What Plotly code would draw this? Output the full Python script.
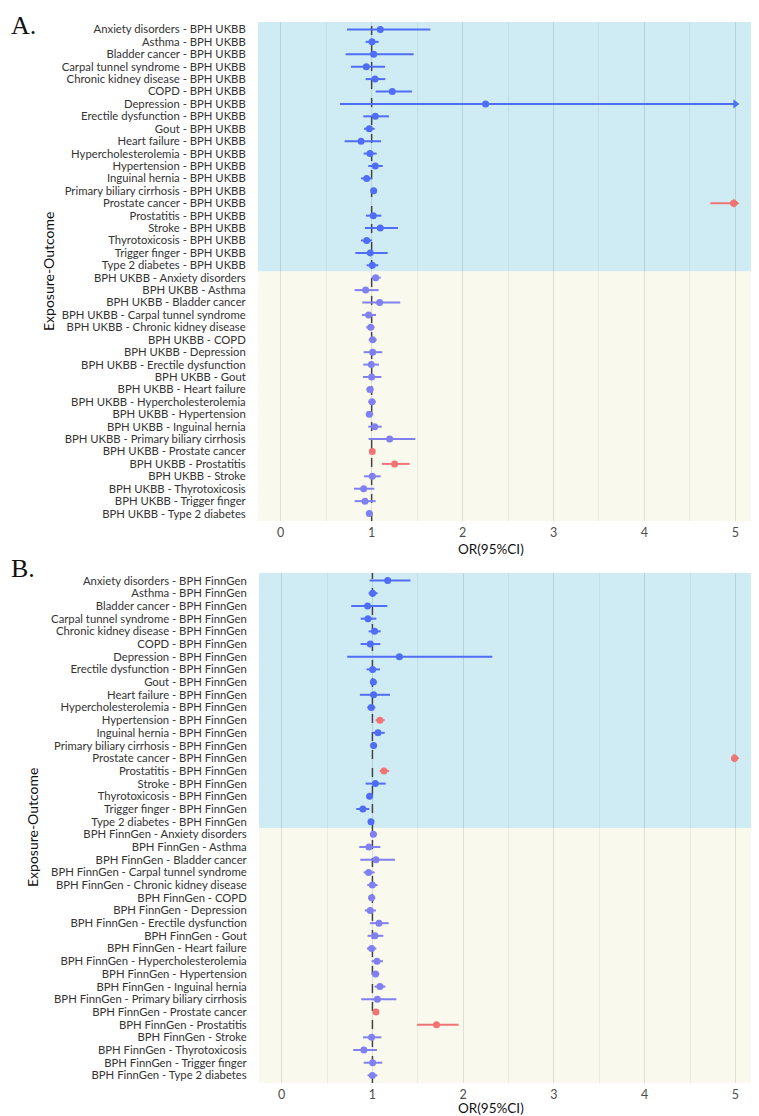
import plotly.graph_objects as go

# outcomes, same order in both panels
outcomes = ["Anxiety disorders", "Asthma", "Bladder cancer", "Carpal tunnel syndrome",
            "Chronic kidney disease", "COPD", "Depression", "Erectile dysfunction", "Gout",
            "Heart failure", "Hypercholesterolemia", "Hypertension", "Inguinal hernia",
            "Primary biliary cirrhosis", "Prostate cancer", "Prostatitis", "Stroke",
            "Thyrotoxicosis", "Trigger finger", "Type 2 diabetes"]

labels_a = [o + " - BPH UKBB" for o in outcomes] + ["BPH UKBB - " + o for o in outcomes]
labels_b = [o + " - BPH FinnGen" for o in outcomes] + ["BPH FinnGen - " + o for o in outcomes]

# panel A (UKBB): OR, lower, upper
a_or = [1.095, 1.004, 1.022, 0.941, 1.037, 1.227, 2.253, 1.040, 0.974, 0.883,
        0.982, 1.040, 0.945, 1.022, 4.98, 1.018, 1.095, 0.945, 0.985, 1.007,
        1.044, 0.934, 1.088, 0.967, 0.989, 1.011, 1.011, 0.996, 1.000, 0.982,
        1.004, 0.974, 1.033, 1.198, 1.007, 1.253, 1.007, 0.912, 0.927, 0.974]
a_lo = [0.729, 0.934, 0.714, 0.773, 0.934, 1.044, 0.652, 0.908, 0.916, 0.703,
        0.912, 0.963, 0.883, 1.005, 4.725, 0.938, 0.927, 0.883, 0.821, 0.945,
        1.000, 0.813, 0.897, 0.894, 0.941, 0.967, 0.912, 0.908, 0.905, 0.945,
        0.963, 0.938, 0.963, 0.967, 0.995, 1.114, 0.916, 0.806, 0.813, 0.941]
a_hi = [1.645, 1.077, 1.462, 1.147, 1.150, 1.443, 5.0, 1.190, 1.033, 1.103,
        1.055, 1.121, 1.004, 1.040, 5.0, 1.106, 1.289, 1.004, 1.176, 1.073,
        1.099, 1.077, 1.315, 1.048, 1.033, 1.055, 1.117, 1.081, 1.106, 1.022,
        1.044, 1.018, 1.110, 1.480, 1.020, 1.418, 1.099, 1.029, 1.044, 1.011]
a_red = [14, 34, 35]

# panel B (FinnGen)
b_or = [1.168, 1.002, 0.947, 0.951, 1.024, 0.976, 1.297, 1.002, 1.010, 1.013,
        0.987, 1.083, 1.061, 1.013, 4.99, 1.127, 1.032, 0.969, 0.895, 0.984,
        1.010, 0.962, 1.039, 0.958, 0.999, 0.991, 0.976, 1.072, 1.028, 0.991,
        1.050, 1.035, 1.083, 1.054, 1.039, 1.706, 0.991, 0.906, 1.002, 0.999]
b_lo = [0.969, 0.958, 0.766, 0.870, 0.958, 0.870, 0.722, 0.936, 0.973, 0.862,
        0.943, 1.035, 1.002, 0.984, 4.956, 1.080, 0.925, 0.936, 0.822, 0.951,
        0.973, 0.855, 0.866, 0.903, 0.943, 0.954, 0.917, 0.973, 0.947, 0.940,
        0.991, 0.991, 1.024, 0.877, 1.025, 1.492, 0.895, 0.788, 0.903, 0.947]
b_hi = [1.419, 1.057, 1.164, 1.043, 1.091, 1.087, 2.321, 1.083, 1.046, 1.194,
        1.032, 1.135, 1.135, 1.043, 5.0, 1.183, 1.146, 1.006, 0.965, 1.013,
        1.050, 1.087, 1.249, 1.024, 1.057, 1.032, 1.039, 1.179, 1.120, 1.043,
        1.116, 1.076, 1.142, 1.264, 1.053, 1.949, 1.098, 1.050, 1.109, 1.054]
b_red = [11, 14, 15, 34, 35]

x_ticks = [0, 1, 2, 3, 4, 5]
XMAX = 5.0

BLUE = "#4f6ef5"
PURPLE = "#8080f0"
RED = "#f07474"
BG_TOP = "#cfecf4"
BG_BOT = "#f9f9ee"

W, H = 759, 1116
OFF = 8  # the page body puts the figure 8px in from the corner


def px(x):
    return (x - OFF) / W


def py(y):
    return 1 - (y - OFF) / H


fig = go.Figure()


def add_panel(fig, n, labels, ors, los, his, reds, xdom, ydom):
    xa = "x" if n == 1 else "x%d" % n
    ya = "y" if n == 1 else "y%d" % n
    rows = list(range(len(labels)))
    half = len(labels) // 2
    groups = {BLUE: [], PURPLE: [], RED: []}
    for i in rows:
        if i in reds:
            groups[RED].append(i)
        elif i < half:
            groups[BLUE].append(i)
        else:
            groups[PURPLE].append(i)
    # arrows for intervals running off the axis (under the points)
    trunc = [i for i in rows if his[i] >= XMAX]
    if trunc:
        fig.add_trace(go.Scatter(
            x=[XMAX] * len(trunc), y=trunc, mode="markers",
            marker=dict(symbol="triangle-right", size=8,
                        color=[RED if i in reds else BLUE for i in trunc]),
            xaxis=xa, yaxis=ya, showlegend=False, cliponaxis=False))
    for col, idx in groups.items():
        fig.add_trace(go.Scatter(
            x=[ors[i] for i in idx], y=idx, mode="markers",
            marker=dict(color=col, size=7),
            error_x=dict(type="data", symmetric=False,
                         array=[min(his[i], XMAX) - ors[i] for i in idx],
                         arrayminus=[ors[i] - los[i] for i in idx],
                         color=col, thickness=2, width=0),
            xaxis=xa, yaxis=ya, showlegend=False, cliponaxis=False))

    fig.add_shape(type="rect", xref=xa + " domain", yref=ya, x0=0, x1=1,
                  y0=-0.6, y1=half - 0.5, fillcolor=BG_TOP, line_width=0, layer="below")
    fig.add_shape(type="rect", xref=xa + " domain", yref=ya, x0=0, x1=1,
                  y0=half - 0.5, y1=len(labels) - 0.4, fillcolor=BG_BOT, line_width=0, layer="below")
    fig.add_shape(type="line", xref=xa, yref=ya + " domain", x0=1, x1=1, y0=0, y1=1,
                  line=dict(color="#4a4a4a", width=1.5, dash="dash"), layer="below")

    xkey = "xaxis" if n == 1 else "xaxis%d" % n
    ykey = "yaxis" if n == 1 else "yaxis%d" % n
    fig.update_layout({
        xkey: dict(domain=xdom, anchor=ya, range=[-0.25, 5.26], tickvals=x_ticks,
                   showgrid=True, gridcolor="rgba(0,0,0,0.06)", gridwidth=1.2,
                   minor=dict(dtick=0.5, tick0=0, showgrid=True,
                              gridcolor="rgba(0,0,0,0.05)", gridwidth=1),
                   zeroline=False, showline=False, ticks="",
                   ticklabelstandoff=2,
                   tickfont=dict(family="Lato", size=12.5, color="#4d4d4d")),
        ykey: dict(domain=ydom, anchor=xa, range=[len(labels) - 0.4, -0.6],
                   tickvals=rows, ticktext=labels, showgrid=False, zeroline=False,
                   ticks="outside", ticklen=9, tickcolor="rgba(0,0,0,0)",
                   tickfont=dict(family="Lato", size=11.3, color="#333333")),
    })


add_panel(fig, 1, labels_a, a_or, a_lo, a_hi, a_red,
          [px(258), px(759)], [py(521), py(22)])
add_panel(fig, 2, labels_b, b_or, b_lo, b_hi, b_red,
          [px(259), px(759)], [py(1083), py(573)])

ann = []
for txt, y in [("A.", 9), ("B.", 552)]:
    ann.append(dict(text=txt, x=px(9), y=py(y), xref="paper", yref="paper",
                    xanchor="left", yanchor="top", showarrow=False,
                    font=dict(family="Liberation Serif", size=26, color="#111")))
for x, y in [(48, 272), (32, 828)]:
    ann.append(dict(text="Exposure-Outcome", x=px(x), y=py(y), xref="paper",
                    yref="paper", textangle=-90, showarrow=False,
                    xanchor="center", yanchor="middle",
                    font=dict(family="Lato", size=14, color="#111")))
for y in [549, 1108]:
    ann.append(dict(text="OR(95%CI)", x=px(491), y=py(y), xref="paper", yref="paper",
                    showarrow=False, xanchor="center", yanchor="middle",
                    font=dict(family="Lato", size=13.5, color="#111")))

fig.update_layout(width=W, height=H, margin=dict(l=0, r=0, t=0, b=0),
                  paper_bgcolor="white", plot_bgcolor="white",
                  annotations=ann, showlegend=False)

fig.write_html("out.html")
